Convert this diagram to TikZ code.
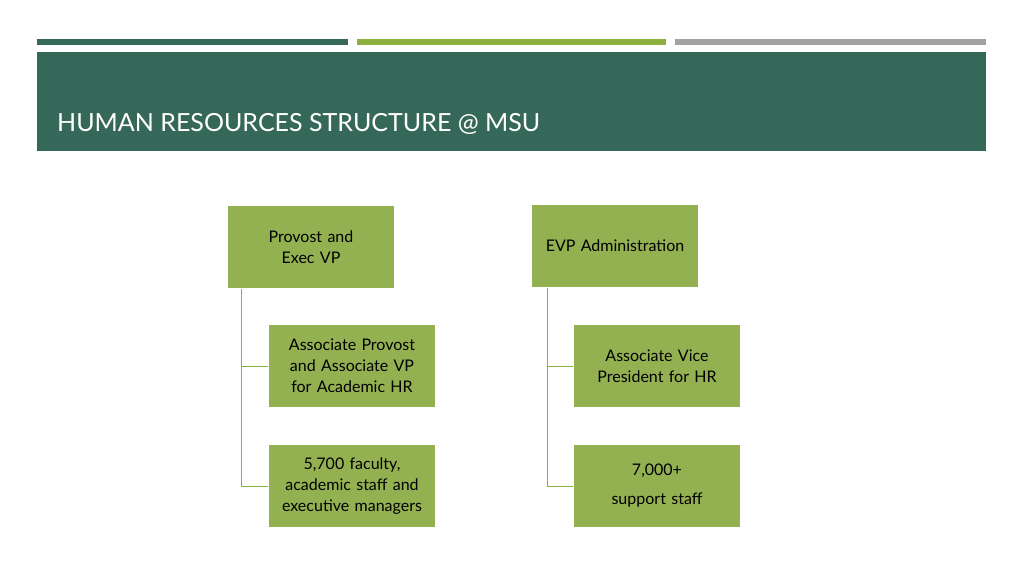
\documentclass[tikz,border=0pt]{standalone}
\usepackage{fontspec}
\setmainfont{Lato}
\definecolor{dkg}{HTML}{356859}
\definecolor{ltg}{HTML}{8BB03E}
\definecolor{boxg}{HTML}{94B152}
\definecolor{gry}{HTML}{A2A2A2}
\begin{document}
\begin{tikzpicture}[x=1pt,y=-1pt,
  box/.style={fill=boxg,draw=white,line width=1pt,minimum width=167pt,minimum height=83pt,text width=160pt,align=center,font=\fontsize{16}{21}\selectfont,anchor=north west,inner sep=0pt},
  conn/.style={draw=ltg,line width=1pt}]
\useasboundingbox (0,0) rectangle (1024,576);
\fill[white] (0,0) rectangle (1024,576);
\fill[dkg] (37,39) rectangle (348,45);
\fill[ltg] (357,39) rectangle (666,45);
\fill[gry] (675,39) rectangle (986,45);
\fill[dkg] (37,52) rectangle (986,151);
\node[anchor=west,text=white,font=\fontsize{25}{30}\selectfont,inner sep=0pt] (title) at (57,124) {HUMAN RESOURCES STRUCTURE @ MSU};
\node[box] (prov) at (227,205) {Provost and\\Exec VP\\[12pt]};
\node[box] (evp) at (531,204) {EVP Administration\\[20pt]};
\node[box] (ap) at (268,324) {Associate Provost\\and Associate VP\\for Academic HR};
\node[box] (fac) at (268,444) {5,700 faculty,\\academic staff and\\executive managers};
\node[box] (avp) at (573,324) {Associate Vice\\President for HR};
\node[box] (sup) at (573,444) {7,000+\\[8pt]support staff};
\coordinate (p0) at ([xshift=14pt]prov.south west);
\coordinate (e0) at ([xshift=16pt]evp.south west);
\draw[conn] (p0) |- (ap.west);
\draw[conn] (p0) |- (fac.west);
\draw[conn] (e0) |- (avp.west);
\draw[conn] (e0) |- (sup.west);
\end{tikzpicture}
\end{document}
